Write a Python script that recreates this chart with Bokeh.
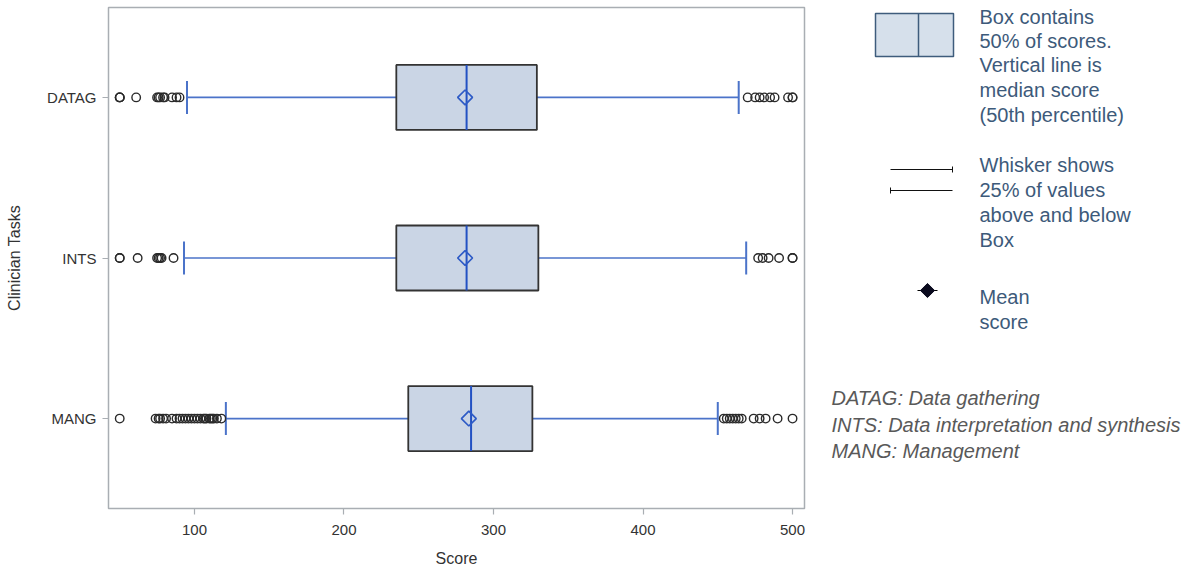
import numpy as np
from bokeh.plotting import figure
from bokeh.layouts import row
from bokeh.models import Range1d, FixedTicker
from bokeh.core.properties import value
from bokeh.embed import file_html
from bokeh.resources import INLINE

# ---------------- data ----------------
categories = ["DATAG", "INTS", "MANG"]
cat_pos = [3, 2, 1]
q1 = [235, 235, 243]
median = [282, 282, 285]
q3 = [329, 330, 326]
mean = [281, 281, 283.5]
whisker_low = [95, 93, 121]
whisker_high = [464, 469, 450]

outliers_datag = [50, 50, 50, 61, 75, 76, 77, 79, 80, 85, 88, 90,
                  470, 475, 478, 481, 485, 488, 497, 500, 500]
outliers_ints = [50, 50, 62, 75, 76, 77, 78, 86,
                 477, 480, 484, 491, 500, 500]
outliers_mang = [50, 74, 76, 77, 79, 81, 85, 88, 90, 92, 94, 96, 98, 100,
                 102, 104, 106, 107, 108, 110, 111, 112, 113, 115, 118,
                 454, 456, 458, 460, 462, 464, 466, 474, 478, 482, 490, 500]
x_ticks = [100, 200, 300, 400, 500]

legend_box_text = ["Box contains", "50% of scores.", "Vertical line is",
                   "median score", "(50th percentile)"]
legend_whisker_text = ["Whisker shows", "25% of values", "above and below", "Box"]
legend_mean_text = ["Mean", "score"]
abbrev_text = ["DATAG: Data gathering",
               "INTS: Data interpretation and synthesis",
               "MANG: Management"]

FONT = "Liberation Sans"
BOX_H = 0.405
CAP_H = 0.205

# ---------------- main plot ----------------
p = figure(frame_width=696, frame_height=501, output_backend="svg",
           toolbar_location=None,
           x_range=Range1d(42.5, 508), y_range=Range1d(0.44, 3.56),
           min_border_left=108, min_border_right=14, min_border_top=7,
           min_border_bottom=56)
p.outline_line_color = "#A9AEB3"
p.outline_line_width = 1.5
p.xgrid.visible = False
p.ygrid.visible = False

for ax in (p.xaxis, p.yaxis):
    ax.axis_line_color = None
    ax.major_tick_line_color = "#A9AEB3"
    ax.major_tick_line_width = 1.2
    ax.major_tick_out = 6
    ax.major_tick_in = 0
    ax.minor_tick_line_color = None
    ax.major_label_text_font = FONT
    ax.major_label_text_font_size = "15px"
    ax.major_label_text_color = "#333333"
    ax.axis_label_text_font = FONT
    ax.axis_label_text_font_size = "16px"
    ax.axis_label_text_font_style = "normal"
    ax.axis_label_text_color = "#333333"

p.xaxis.ticker = FixedTicker(ticks=x_ticks)
p.xaxis.axis_label = "Score"
p.xaxis.major_label_standoff = 10
p.xaxis.axis_label_standoff = 12

p.yaxis.ticker = FixedTicker(ticks=cat_pos)
p.yaxis.major_label_overrides = {pos: c for pos, c in zip(cat_pos, categories)}
p.yaxis.axis_label = "Clinician Tasks"
p.yaxis.major_label_standoff = 6
p.yaxis.axis_label_standoff = 21

ys = np.array(cat_pos, dtype=float)

WHISK = "#4B73C9"
# whiskers
p.segment(x0=whisker_low, y0=ys, x1=q1, y1=ys, line_color=WHISK, line_width=1.6)
p.segment(x0=q3, y0=ys, x1=whisker_high, y1=ys, line_color=WHISK, line_width=1.6)
p.segment(x0=whisker_low, y0=ys - CAP_H / 2, x1=whisker_low, y1=ys + CAP_H / 2,
          line_color=WHISK, line_width=2)
p.segment(x0=whisker_high, y0=ys - CAP_H / 2, x1=whisker_high, y1=ys + CAP_H / 2,
          line_color=WHISK, line_width=2)
# boxes
p.hbar(y=ys, height=BOX_H, left=q1, right=q3, fill_color="#CAD5E5",
       line_color="#333333", line_width=1.8)
# median
p.segment(x0=median, y0=ys - BOX_H / 2, x1=median, y1=ys + BOX_H / 2,
          line_color="#2251C3", line_width=2)
# mean
p.scatter(x=mean, y=ys, marker="square", angle=np.pi / 4, size=10.5,
          fill_color=None, line_color="#2E5BC6", line_width=1.7)
# outliers
for vals, yp in ((outliers_datag, 3), (outliers_ints, 2), (outliers_mang, 1)):
    p.scatter(x=vals, y=[yp] * len(vals), marker="circle", size=8.5,
              fill_color=None, line_color="#2A2A2A", line_width=1.4)

# ---------------- legend panel ----------------
q = figure(frame_width=372, frame_height=565, output_backend="svg",
           toolbar_location=None, x_axis_location=None, y_axis_location=None,
           x_range=Range1d(818, 1190), y_range=Range1d(573, 8),
           min_border=0)
q.xgrid.visible = False
q.ygrid.visible = False
q.outline_line_color = None

LEG = "#3D5A7A"
LFS = "20px"
# box icon
q.quad(left=[875], right=[953], top=[14], bottom=[57], fill_color="#D6E0EB",
       line_color="#3E5C7C", line_width=1.5)
q.segment(x0=[918], y0=[14], x1=[918], y1=[57], line_color="#3E5C7C", line_width=1.5)
q.text(x=[979] * 5, y=[17, 41, 65, 90, 115], text=legend_box_text,
       text_font=value(FONT), text_font_size=LFS, text_color=LEG,
       text_baseline="middle")
# whisker icon
q.segment(x0=[890, 890], y0=[170, 191], x1=[952, 952], y1=[170, 191],
          line_color="#111111", line_width=1)
q.segment(x0=[952, 890], y0=[167, 188], x1=[952, 890], y1=[173, 194],
          line_color="#111111", line_width=1)
q.text(x=[979] * 4, y=[165, 190, 215, 240], text=legend_whisker_text,
       text_font=value(FONT), text_font_size=LFS, text_color=LEG,
       text_baseline="middle")
# mean icon
q.segment(x0=[917], y0=[291], x1=[937], y1=[291], line_color="#000000", line_width=1)
q.scatter(x=[927], y=[291], marker="square", angle=np.pi / 4, size=10,
          fill_color="#0A0A1E", line_color="#0A0A1E")
q.text(x=[979] * 2, y=[297, 322], text=legend_mean_text,
       text_font=value(FONT), text_font_size=LFS, text_color=LEG,
       text_baseline="middle")
# abbreviations
q.text(x=[831] * 3, y=[398, 425, 451], text=abbrev_text,
       text_font=value(FONT), text_font_size=LFS, text_font_style="italic",
       text_color="#595959", text_baseline="middle")

layout = row(p, q)
open("out.html", "w").write(file_html(layout, INLINE))
